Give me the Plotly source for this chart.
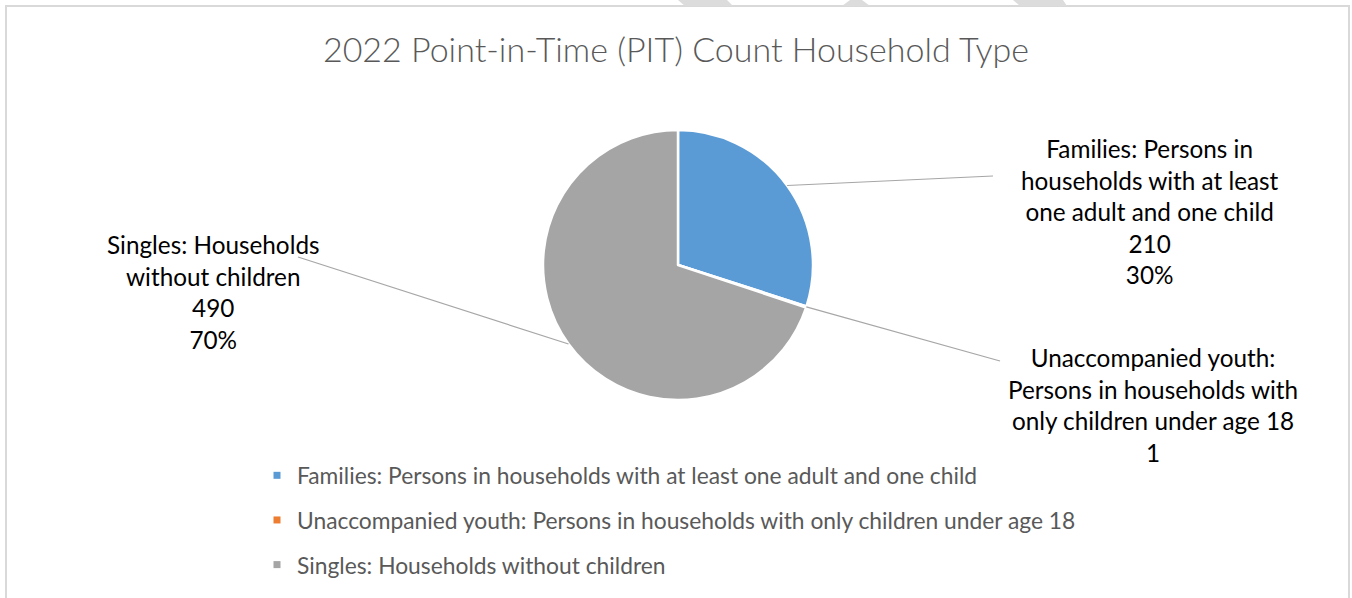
import math
import plotly.graph_objects as go

# ---- data ----
categories = [
    "Families: Persons in households with at least one adult and one child",
    "Unaccompanied youth: Persons in households with only children under age 18",
    "Singles: Households without children",
]
wrapped_labels = [
    "Families: Persons in<br>households with at least<br>one adult and one child",
    "Unaccompanied youth:<br>Persons in households with<br>only children under age 18",
    "Singles: Households<br>without children",
]
values = [210, 1, 490]
show_percent = [True, False, True]
colors = ["#5B9BD5", "#ED7D31", "#A5A5A5"]
title_text = "2022 Point-in-Time (PIT) Count Household Type"

W, H = 1352, 598
# pie placement (pixels)
cx, cy, r = 678, 265, 135
# label centres and leader-line attach points (pixels)
label_pos = [(1150, 211), (1153, 405), (213, 292)]
attach_pos = [(993, 176), (1000, 361), (298, 257)]

font_main = "Lato"


def px2paper(x, y):
    return x / W, 1 - y / H


fig = go.Figure()
fig.add_trace(go.Pie(
    labels=categories,
    values=values,
    sort=False,
    direction="clockwise",
    rotation=0,
    marker=dict(colors=colors, line=dict(color="white", width=2.5)),
    textinfo="none",
    hoverinfo="label+value+percent",
    showlegend=False,
    domain=dict(x=[(cx - r) / W, (cx + r) / W], y=[(H - cy - r) / H, (H - cy + r) / H]),
))

# legend entries (one group per category for spacing)
for i, (name, col) in enumerate(zip(categories, colors)):
    fig.add_trace(go.Scatter(
        x=[None], y=[None], mode="markers", name=name,
        marker=dict(symbol="square", size=7, color=col),
        legendgroup=f"g{i}", showlegend=True, hoverinfo="skip",
    ))

total = sum(values)
shapes = []
annotations = []
cum = 0
for i, v in enumerate(values):
    mid = (cum + v / 2) / total * 2 * math.pi
    cum += v
    px = cx + r * math.sin(mid)
    py = cy - r * math.cos(mid)
    ax_, ay_ = attach_pos[i]
    x0, y0 = px2paper(px, py)
    x1, y1 = px2paper(ax_, ay_)
    shapes.append(dict(type="line", xref="paper", yref="paper",
                       x0=x0, y0=y0, x1=x1, y1=y1,
                       line=dict(color="#A6A6A6", width=1.2)))
    pct = round(v / total * 100)
    txt = f"{wrapped_labels[i]}<br>{v}"
    if show_percent[i]:
        txt += f"<br>{pct}%"
    lx, ly = px2paper(*label_pos[i])
    annotations.append(dict(text=txt, x=lx, y=ly, xref="paper", yref="paper",
                            xanchor="center", yanchor="middle", showarrow=False, align="center",
                            font=dict(family=font_main, size=24.3, color="#000000")))

# chart border (light gray, open at bottom)
border = dict(color="#D9D9D9", width=2)
shapes += [
    dict(type="line", xref="paper", yref="paper", x0=6 / W, x1=6 / W, y0=0, y1=1 - 6 / H, line=border),
    dict(type="line", xref="paper", yref="paper", x0=5 / W, x1=1350 / W, y0=1 - 6 / H, y1=1 - 6 / H, line=border),
    dict(type="line", xref="paper", yref="paper", x0=1349 / W, x1=1349 / W, y0=0, y1=1 - 6 / H, line=border),
]


# faint page decorations above the border
def poly(pts):
    return "M " + " L ".join(f"{x},{y}" for x, y in pts) + " Z"


deco = [
    [(678, 0), (727, 0), (733, 6), (685, 6)],
    [(850, 0), (862, 0), (870, 6), (842, 6)],
    [(1013, 0), (1063, 0), (1067, 6), (1020, 6)],
]
for pts in deco:
    shapes.append(dict(type="path", xref="paper", yref="paper",
                       path=poly([px2paper(x, y) for x, y in pts]),
                       fillcolor="#DCDCDC", line=dict(width=0)))

fig.update_layout(
    width=W, height=H,
    margin=dict(l=0, r=0, t=0, b=0),
    paper_bgcolor="white", plot_bgcolor="white",
    title=dict(text=title_text, x=0.5, xref="paper", y=1 - 50 / H, yref="paper",
               xanchor="center", yanchor="middle",
               font=dict(family=font_main, size=34, color="#595959", weight=300)),
    xaxis=dict(visible=False), yaxis=dict(visible=False),
    showlegend=True,
    legend=dict(x=257 / W, y=1 - 454 / H, xanchor="left", yanchor="top",
                orientation="v", tracegroupgap=12, itemwidth=30,
                font=dict(family=font_main, size=22.8, color="#595959"),
                bgcolor="rgba(0,0,0,0)"),
    shapes=shapes,
    annotations=annotations,
)

fig.write_html("out.html", config={"displayModeBar": False},
               post_script="document.body.style.margin='0';document.body.style.overflow='hidden';")
